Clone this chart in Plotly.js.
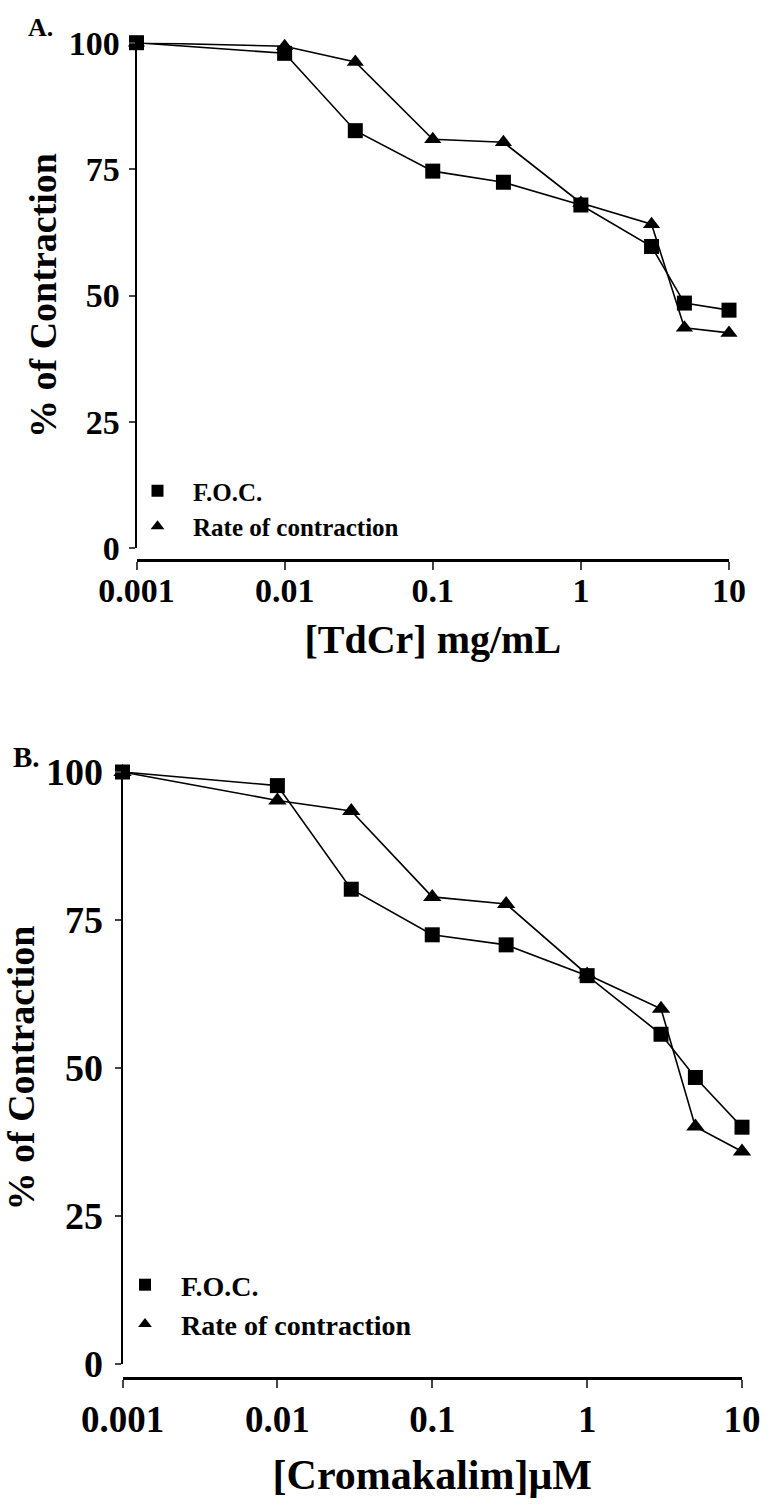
<!DOCTYPE html>
<html>
<head>
<meta charset="utf-8">
<script src="https://cdn.plot.ly/plotly-3.0.1.min.js"></script>
<style>html,body{margin:0;padding:0;background:#fff;}#chart{width:776px;height:1512px;}</style>
</head>
<body>
<div id="chart"></div>
<script>
// ---- Data ----
const concA = [0.001, 0.01, 0.03, 0.1, 0.3, 1, 3, 5, 10];
const focA  = [100, 97.9, 82.6, 74.6, 72.4, 67.9, 59.7, 48.5, 47.1];
const rateA = [100, 99.3, 96.2, 80.9, 80.3, 68.3, 64.1, 43.6, 42.6];

const concB = [0.001, 0.01, 0.03, 0.1, 0.3, 1, 3, 5, 10];
const focB  = [100, 97.7, 80.2, 72.5, 70.8, 65.6, 55.7, 48.4, 40.0];
const rateB = [100, 95.2, 93.4, 78.9, 77.7, 65.8, 60.0, 40.1, 35.9];

const seriesNames = ['F.O.C.', 'Rate of contraction'];
const xTickVals = [0.001, 0.01, 0.1, 1, 10];
const xTickText = ['0.001', '0.01', '0.1', '1', '10'];
const yTickVals = [0, 25, 50, 75, 100];
const xTitleA = '[TdCr] mg/mL';
const xTitleB = '[Cromakalim]\u03bcM';
const yTitle = '% of Contraction';
const panelLabels = ['A.', 'B.'];

// ---- Layout helpers ----
const W = 776, H = 1512;
const px = v => v / W;
const py = v => 1 - v / H;
const FONT = 'Liberation Serif, Times New Roman, serif';

function lineTrace(x, y, xa, ya) {
  return {x: x, y: y, xaxis: xa, yaxis: ya, mode: 'lines', showlegend: false,
          hoverinfo: 'skip', line: {color: '#000', width: 1.6}, cliponaxis: false};
}
function markerTrace(x, y, xa, ya, name, symbol, legend, size) {
  return {x: x, y: y, xaxis: xa, yaxis: ya, mode: 'markers', name: name, legend: legend,
          marker: {symbol: symbol, size: size, color: '#000', line: {width: 0}},
          cliponaxis: false};
}

const traces = [
  lineTrace(concA, focA, 'x', 'y'),
  lineTrace(concA, rateA, 'x', 'y'),
  markerTrace(concA, focA, 'x', 'y', seriesNames[0], 'square', 'legend', 15),
  markerTrace(concA, rateA, 'x', 'y', seriesNames[1], 'triangle-up', 'legend', 15),
  lineTrace(concB, focB, 'x2', 'y2'),
  lineTrace(concB, rateB, 'x2', 'y2'),
  markerTrace(concB, focB, 'x2', 'y2', seriesNames[0], 'square', 'legend2', 15),
  markerTrace(concB, rateB, 'x2', 'y2', seriesNames[1], 'triangle-up', 'legend2', 16)
];

function xAxis(domain, pos, title, tickSize, titleSize, standoff, labelShift) {
  return {
    type: 'log', range: [-3, 1], domain: domain, anchor: 'free', position: pos,
    tickvals: xTickVals, ticktext: xTickText, ticks: 'outside', ticklen: 8, tickwidth: 2,
    ticklabelstandoff: labelShift,
    showline: true, linewidth: 2.5, linecolor: '#000', showgrid: false, zeroline: false,
    tickfont: {family: FONT, size: tickSize, color: '#000', weight: 'bold'},
    title: {text: title, standoff: standoff, font: {family: FONT, size: titleSize, color: '#000', weight: 'bold'}},
    fixedrange: true
  };
}
function yAxis(domain, xref, tickSize, titleSize, standoff, labelShift) {
  return {
    range: [0, 100], domain: domain, anchor: xref,
    tickvals: yTickVals, ticks: 'outside', ticklen: 6, tickwidth: 2,
    ticklabelstandoff: labelShift,
    showline: true, linewidth: 2, linecolor: '#000', showgrid: false, zeroline: false,
    tickfont: {family: FONT, size: tickSize, color: '#000', weight: 'bold'},
    title: {text: yTitle, standoff: standoff, font: {family: FONT, size: titleSize, color: '#000', weight: 'bold'}},
    fixedrange: true
  };
}

const layout = {
  width: W, height: H,
  margin: {l: 0, r: 0, t: 0, b: 0},
  paper_bgcolor: '#fff', plot_bgcolor: 'rgba(0,0,0,0)',
  showlegend: true,
  xaxis: xAxis([px(136.5), px(729)], py(560), xTitleA, 34, 40, 16, -8),
  yaxis: yAxis([py(548.3), py(42.7)], 'x', 34, 38, 0, 2),
  xaxis2: xAxis([px(122.5), px(742)], py(1378), xTitleB, 37, 42, 20, 0),
  yaxis2: yAxis([py(1364), py(772)], 'x2', 38, 38, 0, 4),
  legend: {x: px(122), y: py(468), xanchor: 'left', yanchor: 'top', bgcolor: 'rgba(0,0,0,0)',
           font: {family: FONT, size: 25, color: '#000', weight: 'bold'}, itemwidth: 61,
           itemsizing: 'constant', tracegroupgap: 0},
  legend2: {x: px(109), y: py(1260), xanchor: 'left', yanchor: 'top', bgcolor: 'rgba(0,0,0,0)',
           font: {family: FONT, size: 28, color: '#000', weight: 'bold'}, itemwidth: 62,
           itemsizing: 'constant', tracegroupgap: 0},
  annotations: [
    {text: panelLabels[0], xref: 'paper', yref: 'paper', x: px(26), y: py(28), xanchor: 'left', yanchor: 'middle',
     showarrow: false, font: {family: FONT, size: 26, color: '#000', weight: 'bold'}},
    {text: panelLabels[1], xref: 'paper', yref: 'paper', x: px(11), y: py(757), xanchor: 'left', yanchor: 'middle',
     showarrow: false, font: {family: FONT, size: 29, color: '#000', weight: 'bold'}}
  ]
};

Plotly.newPlot('chart', traces, layout, {staticPlot: true, displayModeBar: false});
</script>
</body>
</html>
